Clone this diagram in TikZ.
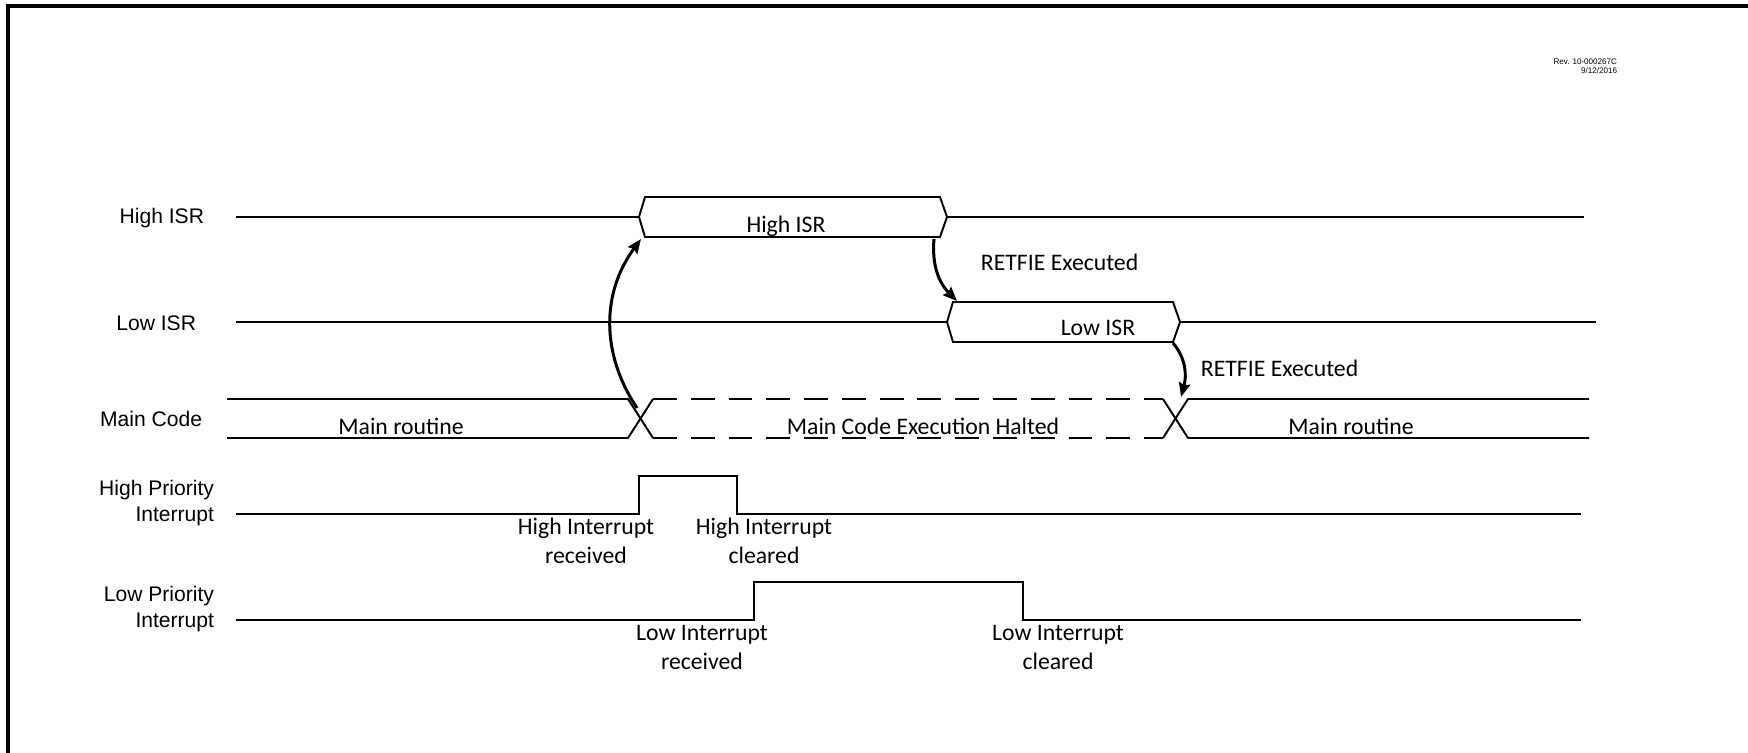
\documentclass[tikz,border=0pt]{standalone}
\usepackage{fontspec}
\setmainfont{Liberation Sans}
\newfontfamily\calib{Carlito}
\usetikzlibrary{arrows.meta}

\tikzset{
  slbl/.style={anchor=base east,align=right,inner sep=0pt,font=\fontsize{12}{14.7}\selectfont},
  wtxt/.style={anchor=base,align=center,inner sep=0pt,font=\calib\fontsize{13.5}{16}\selectfont},
  halt/.style={dash pattern=on 13.6pt off 7.9pt},
  flow/.style={->,line width=1.7pt}
}

\begin{document}
\begin{tikzpicture}[x=0.02cm,y=-0.02cm,line width=1.1pt,>={Stealth[length=8pt,width=6.5pt,inset=1pt]}]
\useasboundingbox (0,0) rectangle (1748,753);
% 外框（只有上边和左边）
\draw[line width=1.8pt] (8,780) -- (8,6) -- (1780,6);
\node[anchor=east,align=right,inner sep=0pt,font=\fontsize{4.6}{5.1}\selectfont] (rev) at (1618,66) {Rev. 10-000267C\\9/12/2016};
% 信号名
\node[slbl] (lhisr) at (205,224) {High ISR};
\node[slbl] (llisr) at (197,330) {Low ISR};
\node[slbl] (lmain) at (203,426) {Main Code};
\node[slbl] (lhpi) at (215,521) {High Priority\\Interrupt};
\node[slbl] (llpi) at (215,627) {Low Priority\\Interrupt};
% 两个 ISR 行：线 + 六角框
\foreach \y/\a/\b/\e in {217/639/947/1584, 322/947/1180/1596}{
  \draw (236,\y) -- (\a,\y);
  \draw (\a,\y) -- (\a+6,\y-20) -- (\b-7,\y-20) -- (\b,\y) -- (\b-7,\y+20) -- (\a+6,\y+20) -- cycle;
  \draw (\b,\y) -- (\e,\y);
}
\node[wtxt] (thisr) at (786,233) {High ISR};
\node[wtxt] (tlisr) at (1098,336) {Low ISR};
% 主程序总线
\draw (227,399) -- (628,399) -- (653,438);
\draw (227,438) -- (628,438) -- (653,399);
\draw[halt] (653,399) -- (1163,399);
\draw[halt] (653,438) -- (1163,438);
\draw (1163,399) -- (1188,438) -- (1589,438);
\draw (1163,438) -- (1188,399) -- (1589,399);
\node[wtxt] (tmain1) at (401,434) {Main routine};
\node[wtxt] (thalt) at (923,434) {Main Code Execution Halted};
\node[wtxt] (tmain2) at (1351,434) {Main routine};
% 中断脉冲
\foreach \y/\h/\r/\f in {514/476/639/737, 620/582/754/1023}{
  \draw (236,\y) -- (\r,\y) -- (\r,\h) -- (\f,\h) -- (\f,\y) -- (1581,\y);
}
\node[wtxt] (thir) at (586,563) {High Interrupt\\received};
\node[wtxt] (thic) at (764,563) {High Interrupt\\cleared};
\node[wtxt] (tlir) at (702,669) {Low Interrupt\\received};
\node[wtxt] (tlic) at (1058,669) {Low Interrupt\\cleared};
% 跳转箭头
\coordinate (a1s) at (637,408);
\coordinate (a1e) at (641,239);
\coordinate (a2s) at (934,239);
\coordinate (a2e) at (957,301);
\coordinate (a3s) at (1173,343);
\coordinate (a3e) at (1181,397);
\draw[flow] (a1s) to[bend left=35] (a1e);
\draw[flow] (a2s) to[out=-95,in=135] (a2e);
\draw[flow] (a3s) to[out=-50,in=75] (a3e);
\node[wtxt,anchor=base west] (tret1) at (980,271) {RETFIE Executed};
\node[wtxt,anchor=base west] (tret2) at (1200,376) {RETFIE Executed};
\end{tikzpicture}
\end{document}
